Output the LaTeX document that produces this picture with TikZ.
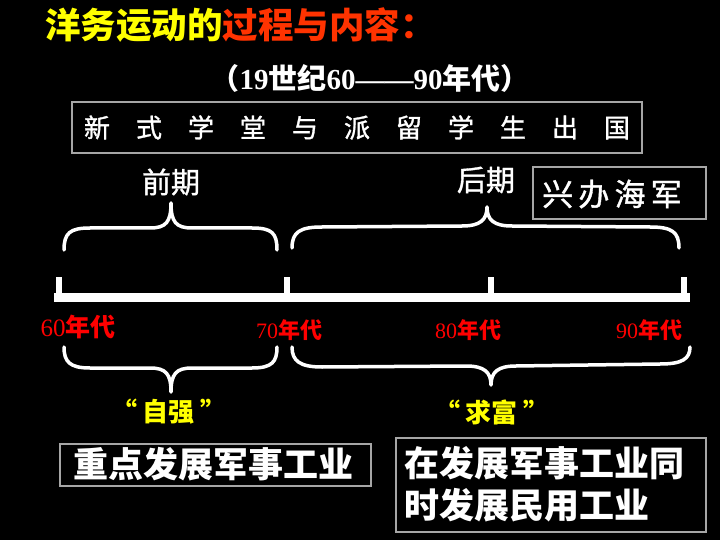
\documentclass[tikz,border=0pt]{standalone}
\usepackage{fontspec}
\setmainfont{Liberation Serif}
\newfontfamily\cjk{Noto Sans CJK SC}
\newfontfamily\cjkmed[FakeBold=1.2]{Noto Sans CJK SC}
\definecolor{titleyellow}{HTML}{FFFF00}
\definecolor{titlered}{HTML}{FF3300}
\definecolor{yearred}{HTML}{FF0000}
\definecolor{boxgray}{HTML}{A6A6A6}
\tikzset{
  framebox/.style={draw=boxgray, line width=1.4pt, inner sep=0pt},
  bracestroke/.style={white, line width=3.5pt, line cap=round, line join=round},
  ticklabel/.style={text=yearred, inner sep=0pt},
  cjktext/.style={text=white, font=\cjk\bfseries\fontsize{#1}{#1}\selectfont, inner sep=0pt},
  cjkthin/.style={text=white, font=\cjkmed\fontsize{#1}{#1}\selectfont, inner sep=0pt}
}
\newcommand{\yearlab}[2]{{\fontsize{#1}{#1}\selectfont #2}{\cjk\bfseries\fontsize{#1}{#1}\selectfont 年代}}
\begin{document}
\begin{tikzpicture}[x=1pt,y=-1pt]
    \fill[black] (0,0) rectangle (720,540);
    \useasboundingbox (0,0) rectangle (720,540);
    \node[anchor=west, inner sep=0pt, font=\cjk\bfseries\fontsize{35.5}{35.5}\selectfont] (title) at (45,25)
        {\textcolor{titleyellow}{洋务运动的}\textcolor{titlered}{过程与内容：}};
    \node[text=white, inner sep=0pt] (period) at (370,78)
        {\cjk\bfseries\fontsize{29}{29}\selectfont （{\rmfamily 19}世纪{\rmfamily 60——90}年代）};
    \node[framebox, minimum width=570, minimum height=51] (xuetang) at (357,127.5) {};
    \node[cjkthin=26] (xuetangtext) at (xuetang.center)
        {新\quad 式\quad 学\quad 堂\quad 与\quad 派\quad 留\quad 学\quad 生\quad 出\quad 国};
    \node[cjkthin=29] (qianqi) at (171,182) {前期};
    \node[cjkthin=29] (houqi) at (486,180) {后期};
    \node[framebox, minimum width=173, minimum height=52] (haijun) at (619.5,193) {};
    \node[cjkthin=31] (haijuntext) at (612,194) {兴\,办\,海\,军};
    \coordinate (t60) at (59,297);
    \coordinate (t70) at (287,297);
    \coordinate (t80) at (491,297);
    \coordinate (t90) at (684,297);
    \fill[white] (54,293) rectangle (690,302);
    \foreach \t in {t60,t70,t80,t90}
        \draw[white, line width=6pt] (\t) -- ++(0,-20);
    \node[ticklabel] (y60) at (78,327) {\yearlab{25}{60}};
    \node[ticklabel] (y70) at (289,330) {\yearlab{22}{70}};
    \node[ticklabel] (y80) at (468,330) {\yearlab{22}{80}};
    \node[ticklabel] (y90) at (649,330) {\yearlab{22}{90}};
    \draw[bracestroke] (64,250) .. controls (64,233) and (70,228) .. (90,228) -- (150,228)
        .. controls (166,228) and (171,222) .. (171,203) .. controls (171,222) and (176,228) .. (192,228)
        -- (252,228) .. controls (272,228) and (277,233) .. (277,250);
    \draw[bracestroke] (292,248) .. controls (292,232) and (300,227) .. (322,227) -- (462,226)
        .. controls (480,226) and (487,220) .. (487,207) .. controls (487,220) and (494,226) .. (512,226)
        -- (650,227) .. controls (672,227) and (679,232) .. (679,248);
    \draw[bracestroke] (64,347) .. controls (64,362) and (70,368) .. (90,368) -- (150,368)
        .. controls (166,368) and (171,374) .. (171,392) .. controls (171,374) and (176,368) .. (192,368)
        -- (252,368) .. controls (272,368) and (277,362) .. (277,347);
    \draw[bracestroke] (292,347) .. controls (292,361) and (300,367) .. (322,367) -- (466,366)
        .. controls (484,366) and (491,372) .. (491,385) .. controls (491,372) and (498,366) .. (516,366)
        -- (660,364) .. controls (682,364) and (690,359) .. (690,347);
    \node[cjktext=26, text=titleyellow] (ziqiang) at (169,412) {“\hspace{6pt}自强\hspace{6pt}”};
    \node[cjktext=26, text=titleyellow] (qiufu) at (492,412) {“\hspace{6pt}求富\hspace{6pt}”};
    \node[framebox, minimum width=311, minimum height=42] (junshi) at (215.5,465) {};
    \node[cjktext=35] (junshitext) at (213,464) {重点发展军事工业};
    \node[framebox, minimum width=310, minimum height=94] (minyong) at (551,485) {};
    \node[cjktext=35, anchor=west] (minyong1) at (404,463) {在发展军事工业同};
    \node[cjktext=35, anchor=west] (minyong2) at (404,505) {时发展民用工业};
\end{tikzpicture}
\end{document}
